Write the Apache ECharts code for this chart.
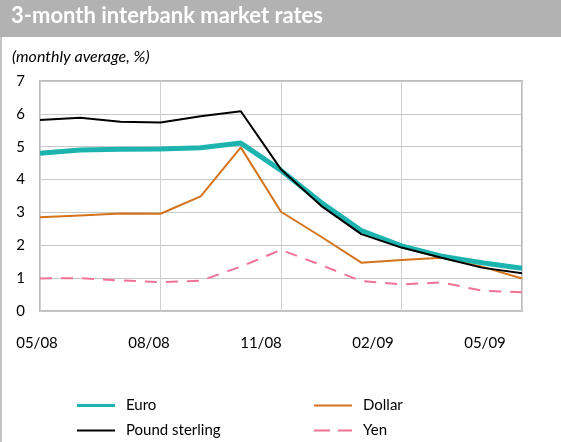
<!DOCTYPE html>
<html>
<head>
<meta charset="utf-8">
<script src="https://cdn.jsdelivr.net/npm/echarts@6/dist/echarts.min.js"></script>
<style>
  html, body { margin: 0; padding: 0; background: #fff; }
  #chart { width: 561px; height: 442px; }
</style>
</head>
<body>
<div id="chart"></div>
<script>
// Monthly averages, May 2008 – May 2009
const months = ['05/08','06/08','07/08','08/08','09/08','10/08','11/08','12/08','01/09','02/09','03/09','04/09','05/09'];
const tickLabels = ['05/08','08/08','11/08','02/09','05/09'];
const euro   = [4.80, 4.90, 4.92, 4.93, 4.97, 5.11, 4.28, 3.30, 2.45, 1.98, 1.67, 1.47, 1.30];
const pound  = [5.81, 5.88, 5.76, 5.74, 5.93, 6.08, 4.31, 3.20, 2.34, 1.93, 1.62, 1.32, 1.15];
const dollar = [2.85, 2.91, 2.97, 2.96, 3.49, 4.98, 3.02, 2.26, 1.47, 1.55, 1.62, 1.35, 0.99];
const yen    = [0.99, 1.00, 0.93, 0.88, 0.92, 1.35, 1.86, 1.40, 0.91, 0.81, 0.87, 0.62, 0.57];

const FONT = 'Lato, "Open Sans", sans-serif';
const chart = echarts.init(document.getElementById('chart'));

// one legend block per entry so each can sit at its own place
function legendEntry(name, left, top, icon, h) {
  return {
    data: [name], left: left, top: top, orient: 'vertical',
    itemWidth: 38, itemHeight: h, icon: icon,
    textStyle: { fontSize: 15, color: '#000', fontFamily: FONT, padding: [0, 0, 0, 6] },
    selectedMode: false
  };
}
const solidBar3 = 'path://M0,0 L38,0 L38,3 L0,3 Z';
const solidBar2 = 'path://M0,0 L38,0 L38,2 L0,2 Z';
const dashBar   = 'path://M0,0 L16,0 L16,2 L0,2 Z M24,0 L38,0 L38,2 L24,2 Z';

chart.setOption({
  animation: false,
  backgroundColor: '#fff',
  textStyle: { fontFamily: FONT },
  graphic: [
    { type: 'rect', left: 0, top: 0, shape: { width: 561, height: 37 }, style: { fill: '#b2b2b2' }, silent: true },
    { type: 'rect', left: 0, top: 37, shape: { width: 2, height: 405 }, style: { fill: '#c4c4c4' }, silent: true },
    { type: 'text', left: 11, top: 5, style: { text: '3-month interbank market rates', fill: '#fff', font: 'bold 22px ' + FONT } },
    { type: 'text', left: 12, top: 49, style: { text: '(monthly average, %)', fill: '#000', font: 'italic 16px ' + FONT } }
  ],
  grid: [
    { left: 40, right: 39, top: 81, bottom: 131, show: true, borderColor: '#bdbdbd', borderWidth: 2, backgroundColor: 'transparent' },
    { left: 37, right: 76, top: 81, bottom: 131, show: false }
  ],
  xAxis: [
    {
      type: 'category', gridIndex: 0, data: months, boundaryGap: false,
      axisLine: { show: false }, axisTick: { show: false }, axisLabel: { show: false },
      splitLine: { show: true, interval: 2, lineStyle: { color: '#d0d0d0', width: 1 } }
    },
    {
      type: 'category', gridIndex: 1, data: tickLabels, boundaryGap: false,
      axisLine: { show: false }, axisTick: { show: false }, splitLine: { show: false },
      axisLabel: { show: true, interval: 0, margin: 25, color: '#000', fontSize: 15, fontFamily: FONT }
    }
  ],
  yAxis: [
    {
      type: 'value', gridIndex: 0, min: 0, max: 7, interval: 1,
      axisLine: { show: false }, axisTick: { show: false },
      axisLabel: { color: '#000', fontSize: 15, margin: 15, fontFamily: FONT },
      splitLine: { show: true, lineStyle: { color: '#c8c8c8', width: 1 } }
    },
    { type: 'value', gridIndex: 1, show: false, min: 0, max: 7 }
  ],
  legend: [
    legendEntry('Euro', 72, 393, solidBar3, 3),
    legendEntry('Pound sterling', 72, 418, solidBar2, 2),
    legendEntry('Dollar', 309, 393, solidBar2, 2),
    legendEntry('Yen', 309, 418, dashBar, 2)
  ],
  series: [
    {
      name: 'Dollar', type: 'line', data: dollar, xAxisIndex: 0, yAxisIndex: 0,
      symbol: 'none', lineStyle: { color: '#d4731c', width: 2 }, itemStyle: { color: '#d4731c' }, z: 2
    },
    {
      name: 'Yen', type: 'line', data: yen, xAxisIndex: 0, yAxisIndex: 0,
      symbol: 'none', lineStyle: { color: '#ef7396', width: 2, type: [12, 9] }, itemStyle: { color: '#ef7396' }, z: 2
    },
    {
      name: 'Euro', type: 'line', data: euro, xAxisIndex: 0, yAxisIndex: 0,
      symbol: 'none', lineStyle: { color: '#1db4b0', width: 5 }, itemStyle: { color: '#1db4b0' }, z: 3
    },
    {
      name: 'Pound sterling', type: 'line', data: pound, xAxisIndex: 0, yAxisIndex: 0,
      symbol: 'none', lineStyle: { color: '#000', width: 2 }, itemStyle: { color: '#000' }, z: 4
    }
  ]
});
</script>
</body>
</html>
